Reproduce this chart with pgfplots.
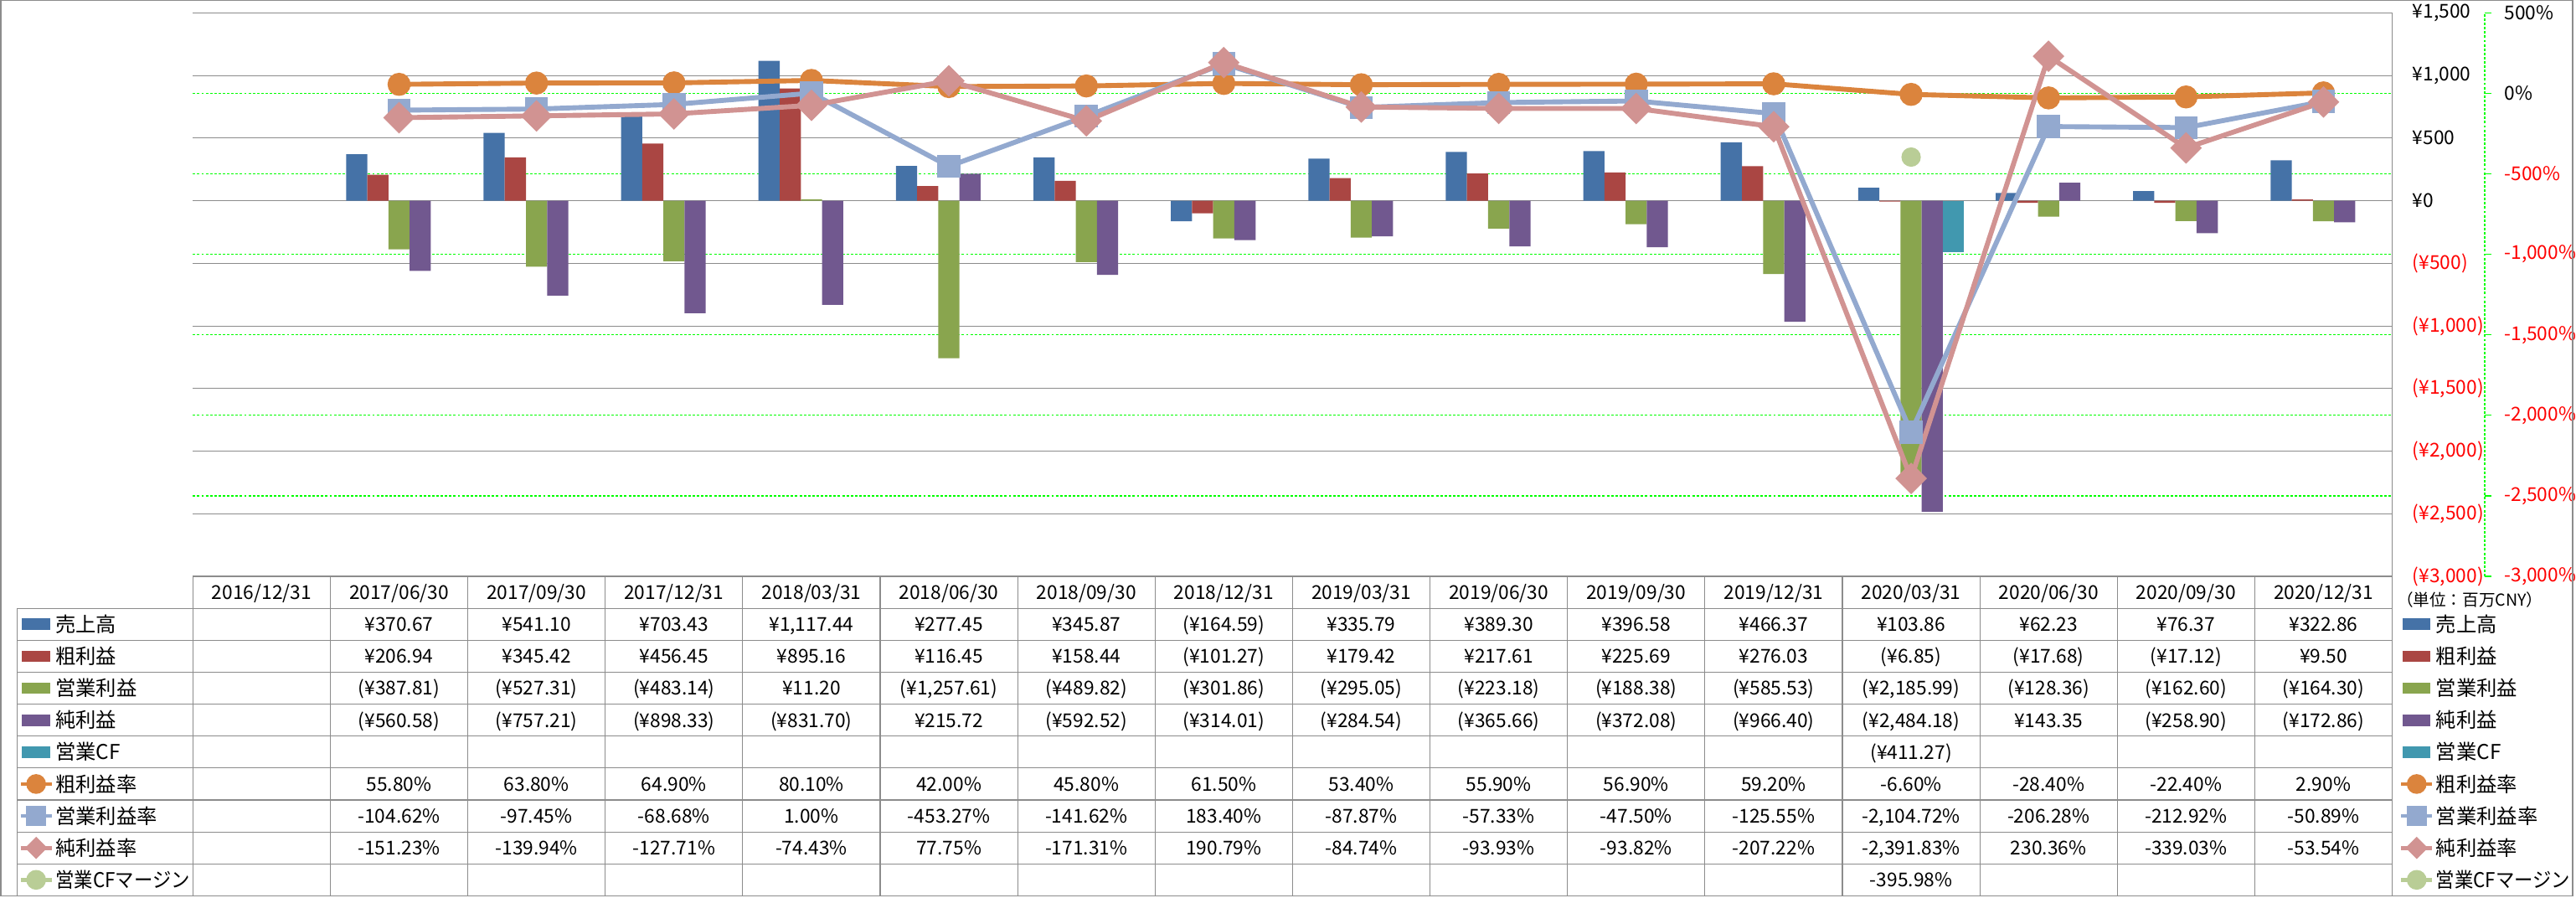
\documentclass[border=0pt]{standalone}
\usepackage{fontspec}
\setmainfont{Noto Sans CJK JP}
\usepackage{graphicx}
\usepackage{pgfplots}
\pgfplotsset{compat=1.18}
\definecolor{cS}{HTML}{4572A7}
\definecolor{cG}{HTML}{AA4643}
\definecolor{cO}{HTML}{89A54E}
\definecolor{cN}{HTML}{71588F}
\definecolor{cCF}{HTML}{4198AF}
\definecolor{cGM}{HTML}{DB843D}
\definecolor{cOM}{HTML}{93A9CF}
\definecolor{cNM}{HTML}{D19392}
\definecolor{cCFM}{HTML}{B9CD96}
\definecolor{gridgray}{HTML}{8C8C8C}
\definecolor{limeg}{HTML}{00FF00}
\newcommand\nf{\fontsize{5.8pt}{7pt}\selectfont}
\newcommand\jf{\fontsize{6.2pt}{7pt}\selectfont}
\newcommand\uf{\fontsize{5pt}{6pt}\selectfont}
\pgfplotsset{
  plotarea/.style={scale only axis, width=669.36pt, height=171.46pt,
    at={(58.7pt,-175.36pt)}, anchor=south west, xmin=-0.5, xmax=15.5},
  barleg/.style={legend image code/.code={%
    \fill[##1] (-4.05pt,-1.55pt) rectangle (4.05pt,1.55pt);
    \path (-4.7pt,0pt) (5.3pt,0pt);}},
  lineleg/.style={legend image code/.code={%
    \draw[mark repeat=2,mark phase=2,##1] plot coordinates {(-4.7pt,0pt) (0pt,0pt) (4.7pt,0pt)};
    \path (5.3pt,0pt);}},
  tableleg/.style={legend cell align=left,
    legend style={anchor=north west, draw=none, fill=none, inner sep=0pt, outer sep=0pt,
      row sep=0pt, column sep=0pt, font=\jf,
      nodes={inner sep=0pt, outer sep=0pt, text height=7.2pt, text depth=2.52pt}}},
}
\newcommand\legendall{%
  \addlegendimage{barleg,cS}\addlegendentry{売上高}
  \addlegendimage{barleg,cG}\addlegendentry{粗利益}
  \addlegendimage{barleg,cO}\addlegendentry{営業利益}
  \addlegendimage{barleg,cN}\addlegendentry{純利益}
  \addlegendimage{barleg,cCF}\addlegendentry{営業CF}
  \addlegendimage{lineleg,cGM,line width=1.2pt,mark=*,mark size=2.4pt,mark options={solid}}\addlegendentry{粗利益率}
  \addlegendimage{lineleg,cOM,line width=1.2pt,mark=square*,mark size=2.5pt,mark options={solid,rounded corners=0.8pt}}\addlegendentry{営業利益率}
  \addlegendimage{lineleg,cNM,line width=1.2pt,mark=square*,mark size=1.8pt,mark options={solid,rotate=45}}\addlegendentry{純利益率}
  \addlegendimage{lineleg,cCFM,line width=1.2pt,mark=*,mark size=2.4pt,mark options={solid}}\addlegendentry{\scalebox{0.92}[1]{営業CFマージン}}
}
\newcommand\trow[2]{%
  \foreach \v [count=\j from 1] in {#2} {%
    \node[anchor=base, inner sep=0pt, font=\nf] at ({58.7pt+41.835pt*(\j+0.5)}, {-175.36pt-9.72pt*(#1+0.5)-2.13pt}) {\v};}}
\begin{document}
\begin{tikzpicture}
% secondary-axis gridlines (behind everything)
\begin{axis}[plotarea, ymin=-3000, ymax=500,
  ytick={-2500,-2000,-1500,-1000,-500,0}, yticklabel style={opacity=0}, xtick=\empty,
  ymajorgrids, major grid style={limeg, line width=0.3pt, dash pattern=on 0.75pt off 0.55pt},
  axis line style={draw=none}, major tick length=0pt]
\end{axis}
% bars, primary axis
\begin{axis}[plotarea, tableleg, legend style={at={(-0.07918,-0.05669)}},
  ymin=-3000, ymax=1500,
  axis x line=none, xtick=\empty,
  axis y line*=right, y axis line style={gridgray, line width=0.28pt},
  ytick={-3000,-2500,-2000,-1500,-1000,-500,0,500,1000,1500},
  yticklabels={{\color{red}(¥3,000)},{\color{red}(¥2,500)},{\color{red}(¥2,000)},{\color{red}(¥1,500)},{\color{red}(¥1,000)},{\color{red}(¥500)},{¥0},{¥500},{¥1,000},{¥1,500}},
  ymajorgrids, major grid style={gridgray, line width=0.28pt},
  major tick length=0pt,
  yticklabel style={anchor=west, inner sep=0pt, xshift=6pt, font=\nf},
  bar width=0.154]
\legendall
\addplot[ybar, bar shift=-0.308, fill=cS, draw=none, forget plot] coordinates {(1,370.67)(2,541.10)(3,703.43)(4,1117.44)(5,277.45)(6,345.87)(7,-164.59)(8,335.79)(9,389.30)(10,396.58)(11,466.37)(12,103.86)(13,62.23)(14,76.37)(15,322.86)};
\addplot[ybar, bar shift=-0.154, fill=cG, draw=none, forget plot] coordinates {(1,206.94)(2,345.42)(3,456.45)(4,895.16)(5,116.45)(6,158.44)(7,-101.27)(8,179.42)(9,217.61)(10,225.69)(11,276.03)(12,-6.85)(13,-17.68)(14,-17.12)(15,9.50)};
\addplot[ybar, bar shift=0, fill=cO, draw=none, forget plot] coordinates {(1,-387.81)(2,-527.31)(3,-483.14)(4,11.20)(5,-1257.61)(6,-489.82)(7,-301.86)(8,-295.05)(9,-223.18)(10,-188.38)(11,-585.53)(12,-2185.99)(13,-128.36)(14,-162.60)(15,-164.30)};
\addplot[ybar, bar shift=0.154, fill=cN, draw=none, forget plot] coordinates {(1,-560.58)(2,-757.21)(3,-898.33)(4,-831.70)(5,215.72)(6,-592.52)(7,-314.01)(8,-284.54)(9,-365.66)(10,-372.08)(11,-966.40)(12,-2484.18)(13,143.35)(14,-258.90)(15,-172.86)};
\addplot[ybar, bar shift=0.308, fill=cCF, draw=none, forget plot] coordinates {(12,-411.27)};
\end{axis}
% lines, secondary axis
\begin{axis}[plotarea, tableleg, legend style={at={(1.00320,-0.05669)}},
  ymin=-3000, ymax=500, hide axis]
\legendall
\addplot[cGM, line width=1.5pt, mark=*, mark size=2.75pt, mark options={solid}, forget plot] coordinates {(1,55.80)(2,63.80)(3,64.90)(4,80.10)(5,42.00)(6,45.80)(7,61.50)(8,53.40)(9,55.90)(10,56.90)(11,59.20)(12,-6.60)(13,-28.40)(14,-22.40)(15,2.90)};
\addplot[cOM, line width=1.5pt, mark=square*, mark size=2.75pt, mark options={solid, rounded corners=0.8pt}, forget plot] coordinates {(1,-104.62)(2,-97.45)(3,-68.68)(4,1.00)(5,-453.27)(6,-141.62)(7,183.40)(8,-87.87)(9,-57.33)(10,-47.50)(11,-125.55)(12,-2104.72)(13,-206.28)(14,-212.92)(15,-50.89)};
\addplot[cNM, line width=1.5pt, mark=square*, mark size=2.65pt, mark options={solid, rotate=45}, forget plot] coordinates {(1,-151.23)(2,-139.94)(3,-127.71)(4,-74.43)(5,77.75)(6,-171.31)(7,190.79)(8,-84.74)(9,-93.93)(10,-93.82)(11,-207.22)(12,-2391.83)(13,230.36)(14,-339.03)(15,-53.54)};
\addplot[cCFM, only marks, mark=*, mark size=2.75pt, forget plot] coordinates {(12,-395.98)};
\end{axis}
% secondary axis line with labels
\begin{axis}[scale only axis, width=10pt, height=171.46pt, at={(756.2pt,-175.36pt)}, anchor=south east,
  xmin=0, xmax=1, ymin=-3000, ymax=500, axis x line=none, xtick=\empty,
  axis y line*=right, y axis line style={limeg, line width=0.3pt, dash pattern=on 0.75pt off 0.55pt},
  ytick={-3000,-2500,-2000,-1500,-1000,-500,0,500},
  yticklabels={{\color{red}-3,000\%},{\color{red}-2,500\%},{\color{red}-2,000\%},{\color{red}-1,500\%},{\color{red}-1,000\%},{\color{red}-500\%},{0\%},{500\%}},
  ytick align=outside, major tick length=2.1pt, major tick style={limeg, line width=0.3pt, solid},
  yticklabel style={anchor=west, inner sep=0pt, xshift=3.7pt, font=\nf}]
\end{axis}
% data table
\draw[gridgray, line width=0.28pt] (58.7pt,-175.36pt) -- (728.06pt,-175.36pt);
\foreach \k in {1,...,10} \draw[gridgray, line width=0.28pt] (5.28pt,{-175.36pt-9.72pt*\k}) -- (728.06pt,{-175.36pt-9.72pt*\k});
\draw[gridgray, line width=0.28pt] (5.28pt,-185.08pt) -- (5.28pt,-272.56pt);
\foreach \j in {0,...,16} \draw[gridgray, line width=0.28pt] ({58.7pt+41.835pt*\j},-175.36pt) -- ({58.7pt+41.835pt*\j},-272.56pt);
\foreach \d [count=\j from 0] in {2016/12/31,2017/06/30,2017/09/30,2017/12/31,2018/03/31,2018/06/30,2018/09/30,2018/12/31,2019/03/31,2019/06/30,2019/09/30,2019/12/31,2020/03/31,2020/06/30,2020/09/30,2020/12/31}
  \node[anchor=base, inner sep=0pt, font=\nf] at ({58.7pt+41.835pt*(\j+0.5)}, {-175.36pt-4.86pt-2.13pt}) {\d};
\trow{1}{{¥370.67},{¥541.10},{¥703.43},{¥1,117.44},{¥277.45},{¥345.87},{(¥164.59)},{¥335.79},{¥389.30},{¥396.58},{¥466.37},{¥103.86},{¥62.23},{¥76.37},{¥322.86}}
\trow{2}{{¥206.94},{¥345.42},{¥456.45},{¥895.16},{¥116.45},{¥158.44},{(¥101.27)},{¥179.42},{¥217.61},{¥225.69},{¥276.03},{(¥6.85)},{(¥17.68)},{(¥17.12)},{¥9.50}}
\trow{3}{{(¥387.81)},{(¥527.31)},{(¥483.14)},{¥11.20},{(¥1,257.61)},{(¥489.82)},{(¥301.86)},{(¥295.05)},{(¥223.18)},{(¥188.38)},{(¥585.53)},{(¥2,185.99)},{(¥128.36)},{(¥162.60)},{(¥164.30)}}
\trow{4}{{(¥560.58)},{(¥757.21)},{(¥898.33)},{(¥831.70)},{¥215.72},{(¥592.52)},{(¥314.01)},{(¥284.54)},{(¥365.66)},{(¥372.08)},{(¥966.40)},{(¥2,484.18)},{¥143.35},{(¥258.90)},{(¥172.86)}}
\node[anchor=base, inner sep=0pt, font=\nf] at ({58.7pt+41.835pt*12.5}, {-175.36pt-9.72pt*5.5-2.13pt}) {(¥411.27)};
\trow{6}{{55.80\%},{63.80\%},{64.90\%},{80.10\%},{42.00\%},{45.80\%},{61.50\%},{53.40\%},{55.90\%},{56.90\%},{59.20\%},{-6.60\%},{-28.40\%},{-22.40\%},{2.90\%}}
\trow{7}{{-104.62\%},{-97.45\%},{-68.68\%},{1.00\%},{-453.27\%},{-141.62\%},{183.40\%},{-87.87\%},{-57.33\%},{-47.50\%},{-125.55\%},{-2,104.72\%},{-206.28\%},{-212.92\%},{-50.89\%}}
\trow{8}{{-151.23\%},{-139.94\%},{-127.71\%},{-74.43\%},{77.75\%},{-171.31\%},{190.79\%},{-84.74\%},{-93.93\%},{-93.82\%},{-207.22\%},{-2,391.83\%},{230.36\%},{-339.03\%},{-53.54\%}}
\node[anchor=base, inner sep=0pt, font=\nf] at ({58.7pt+41.835pt*12.5}, {-175.36pt-9.72pt*9.5-2.13pt}) {-395.98\%};
\node[inner sep=0pt, font=\uf] at (751.7pt,-182.4pt) {（単位：百万CNY）};
% frame
\draw[gridgray, line width=0.35pt] (0.25pt,-0.2pt) rectangle (783pt,-272.6pt);
\pgfresetboundingbox
\path[use as bounding box] (0pt,0pt) rectangle (784pt,-273pt);
\end{tikzpicture}
\end{document}
